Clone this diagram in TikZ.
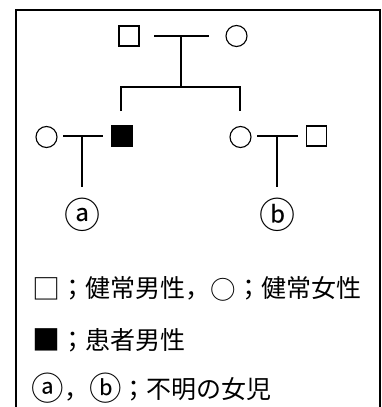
\documentclass[tikz,border=0pt]{standalone}
\usepackage{fontspec}
\usepackage{graphicx}
\newfontfamily\jp{Noto Sans CJK JP}
\newcommand{\bigsym}[2]{\raisebox{-0.07em}{\scalebox{#1}{#2}}}
\begin{document}
\begin{tikzpicture}[x=1pt,y=-1pt,line width=1.1pt,
  male/.style={draw,rectangle,minimum size=20pt,inner sep=0pt},
  malea/.style={male,fill=black},
  female/.style={draw,circle,minimum size=21pt,inner sep=0pt},
  child/.style={inner sep=0pt,font=\jp\fontsize{24}{24}\selectfont},
  legend/.style={anchor=west,inner sep=0pt,font=\jp\fontsize{25}{25}\selectfont}]
\useasboundingbox (0,0) rectangle (381,407);
\draw (16,407) -- (16,10) -- (380,10) -- (380,407);
% generation 1
\node[male] (F) at (129,36) {};
\node[female] (M) at (236.5,36) {};
\coordinate (m1l) at (154,36);
\coordinate (m1r) at (209,36);
\coordinate (m1c) at (181,36);
\coordinate (s1c) at (181,87);
\coordinate (s1l) at (121,87);
\coordinate (s1r) at (240,87);
\coordinate (d1l) at (121,111);
\coordinate (d1r) at (240,111);
\draw (m1l) -- (m1r);
\draw (m1c) -- (s1c);
\draw (d1l) -- (s1l) -- (s1r) -- (d1r);
% generation 2 left
\node[female] (W1) at (46.5,137) {};
\node[malea] (S1) at (122,136) {};
\coordinate (m2l) at (63,136);
\coordinate (m2r) at (103,136);
\coordinate (m2c) at (82,136);
\node[child] (A) at (82,215) {\scalebox{1.5}{ⓐ}};
\coordinate (a2) at (82,187);
\draw (m2l) -- (m2r);
\draw (m2c) -- (a2);
% generation 2 right
\node[female] (D) at (240.5,137) {};
\node[male] (H) at (316.5,136) {};
\coordinate (m3l) at (257,136);
\coordinate (m3r) at (298,136);
\coordinate (m3c) at (277,136);
\node[child] (B) at (277,215) {\scalebox{1.5}{ⓑ}};
\coordinate (b2) at (277,187);
\draw (m3l) -- (m3r);
\draw (m3c) -- (b2);
% legend
\node[legend] (L1) at (32,289) {\bigsym{1.12}{□}；健常男性，\bigsym{1.02}{○}；健常女性};
\node[legend] (L2) at (32,340) {\bigsym{1.12}{■}；患者男性};
\node[legend] (L3) at (31,388) {\bigsym{1.3}{ⓐ}，\bigsym{1.3}{ⓑ}；不明の女児};
\end{tikzpicture}
\end{document}
